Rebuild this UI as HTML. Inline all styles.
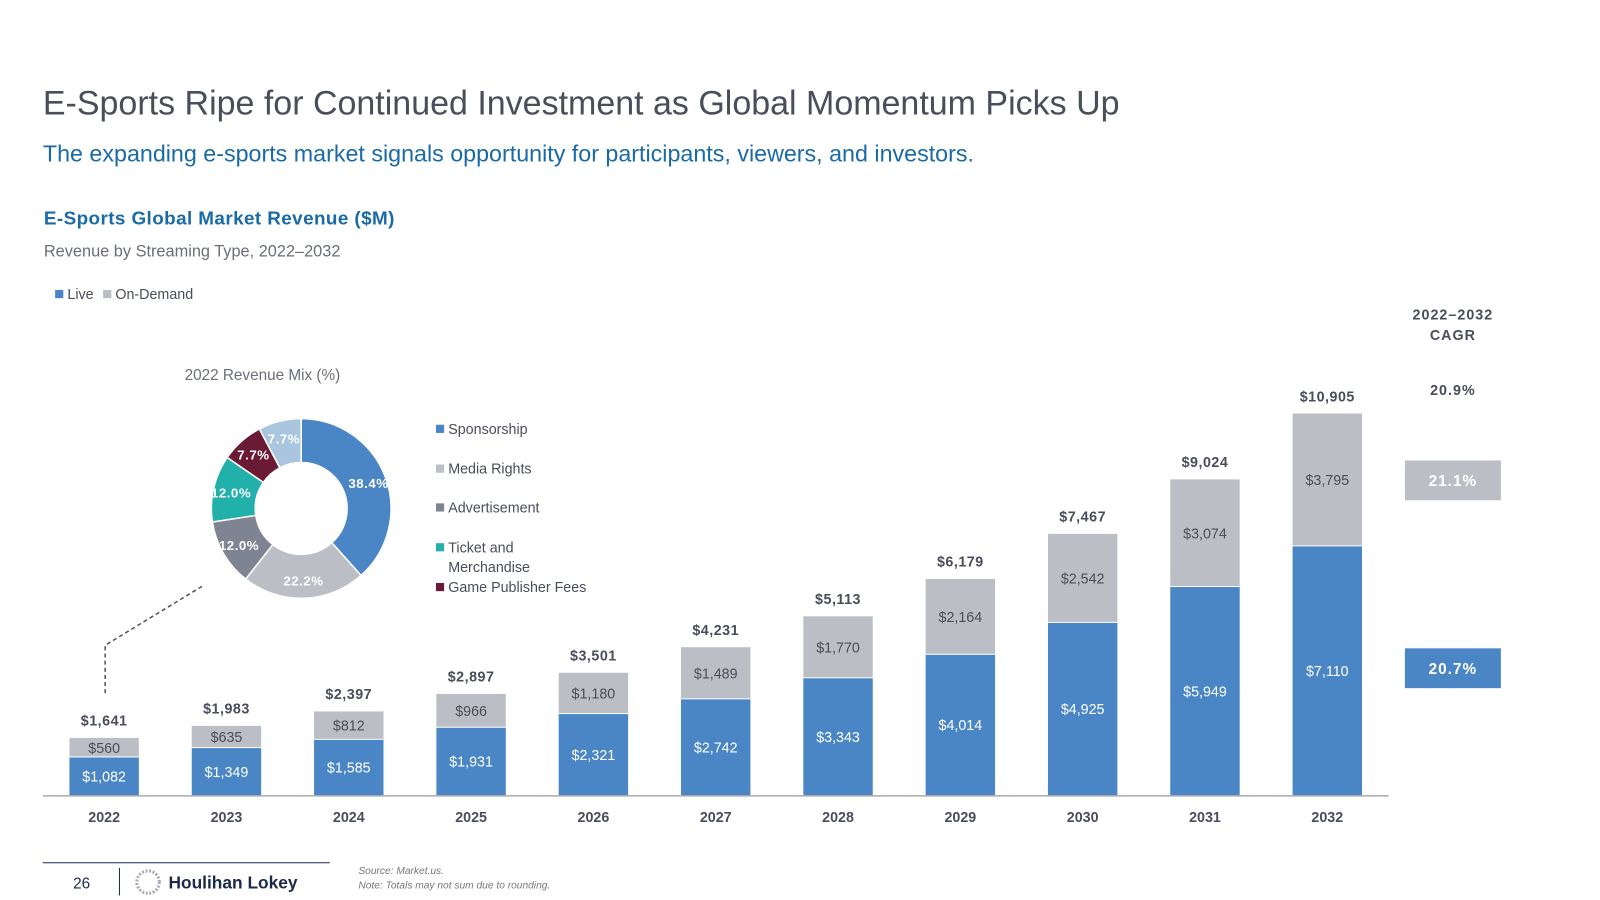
<!DOCTYPE html>
<html><head><meta charset="utf-8"><style>
html,body{margin:0;padding:0;background:#fff;}
svg{display:block;font-family:"Liberation Sans",sans-serif;}
</style></head><body>
<svg id="chart" width="1600" height="900" viewBox="0 0 1600 900">
<g transform="scale(1.021)">
<text x="42" y="112" font-size="33.3" fill="#4a4d5a">E-Sports Ripe for Continued Investment as Global Momentum Picks Up</text>
<text x="42" y="158" font-size="22.8" fill="#1a6aa8">The expanding e-sports market signals opportunity for participants, viewers, and investors.</text>
<text x="43" y="220" font-size="18.5" font-weight="bold" fill="#1a6aa8" letter-spacing="0.4">E-Sports Global Market Revenue ($M)</text>
<text x="43" y="251" font-size="16" fill="#6b6e78">Revenue by Streaming Type, 2022–2032</text>
<g>
<rect x="54" y="284" width="8" height="8" fill="#4a86c5"/>
<text x="66" y="293" font-size="14" fill="#4a4d5a">Live</text>
<rect x="101" y="284" width="8" height="8" fill="#bcbec5"/>
<text x="113" y="293" font-size="14" fill="#4a4d5a">On-Demand</text>
</g>
<text x="1423" y="313" font-size="14" font-weight="bold" fill="#4a4d5a" text-anchor="middle" letter-spacing="1">2022–2032</text>
<text x="1423" y="333" font-size="14" font-weight="bold" fill="#4a4d5a" text-anchor="middle" letter-spacing="1">CAGR</text>
<text x="1423" y="387" font-size="14" font-weight="bold" fill="#4a4d5a" text-anchor="middle" letter-spacing="1">20.9%</text>
<rect x="1376" y="451" width="94" height="39" fill="#bcbec5"/>
<text x="1423" y="476" font-size="15" font-weight="bold" fill="#fff" text-anchor="middle" letter-spacing="1">21.1%</text>
<rect x="1376" y="635" width="94" height="39" fill="#4a86c5"/>
<text x="1423" y="660" font-size="15" font-weight="bold" fill="#fff" text-anchor="middle" letter-spacing="1">20.7%</text>
<g id="bars"></g>
<line x1="42" y1="779.5" x2="1360" y2="779.5" stroke="#aaa" stroke-width="1.5"/>
<text x="257" y="372" font-size="15" fill="#6b6e78" text-anchor="middle">2022 Revenue Mix (%)</text>
<g id="donut"></g>
<g id="dlegend"></g>
<polyline points="103,679 103,632 200,573" fill="none" stroke="#555" stroke-width="1.5" stroke-dasharray="4,3"/>
<line x1="42" y1="845" x2="323" y2="845" stroke="#1b2a4a" stroke-width="1"/>
<text x="80" y="870" font-size="15" fill="#1b2a4a" text-anchor="middle">26</text>
<line x1="117" y1="850" x2="117" y2="877" stroke="#1b2a4a"/>
<circle cx="145" cy="864" r="11" fill="none" stroke="#aab" stroke-dasharray="2,1.5" stroke-width="3"/>
<text x="165" y="870" font-size="17" font-weight="bold" fill="#1b2a4a">Houlihan Lokey</text>
<text x="351" y="856" font-size="10" font-style="italic" fill="#777">Source: Market.us.</text>
<text x="351" y="870" font-size="10" font-style="italic" fill="#777">Note: Totals may not sum due to rounding.</text>
</g>
</svg>
<script>
const years=["2022","2023","2024","2025","2026","2027","2028","2029","2030","2031","2032"];
const live=[1082,1349,1585,1931,2321,2742,3343,4014,4925,5949,7110];
const onDemand=[560,635,812,966,1180,1489,1770,2164,2542,3074,3795];
const totals=[1641,1983,2397,2897,3501,4231,5113,6179,7467,9024,10905];
const mixLabels=["Sponsorship","Media Rights","Advertisement","Ticket and Merchandise","Game Publisher Fees","Other"];
const mixValues=[38.4,22.2,12.0,12.0,7.7,7.7];
const NS="http://www.w3.org/2000/svg";
function mk(t,a,p){const e=document.createElementNS(NS,t);for(const k in a)e.setAttribute(k,a[k]);p.appendChild(e);return e;}
const base=779,scaleK=374/10905;
const y=v=>base-v*scaleK;
const x=i=>102+i*119.8;
const bw=68;
const fmt=v=>"$"+v.toLocaleString("en-US");
const g=document.getElementById("bars");
years.forEach((yr,i)=>{
 const cx=x(i);
 const r1=mk("rect",{x:cx-bw/2,y:y(live[i]),width:bw,height:live[i]*scaleK,fill:"#4a86c5"},g);
 
 
 const top=live[i]+onDemand[i];
 const r2=mk("rect",{x:cx-bw/2,y:y(top),width:bw,height:onDemand[i]*scaleK-1,fill:"#bcbec5"},g);
 
 
 const t1=mk("text",{x:cx,y:(y(live[i])+base)/2+5,"font-size":14,fill:"#fff","text-anchor":"middle"},g);t1.textContent=fmt(live[i]);
 
 
 const t2=mk("text",{x:cx,y:(y(top)+y(live[i]))/2+5,"font-size":14,fill:"#4a4d5a","text-anchor":"middle"},g);t2.textContent=fmt(onDemand[i]);
 
 
 const t3=mk("text",{x:cx,y:y(totals[i])-12,"font-size":14,"font-weight":"bold",fill:"#4a4d5a","text-anchor":"middle","letter-spacing":"0.5"},g);t3.textContent=fmt(totals[i]);
 
 
 const t4=mk("text",{x:cx,y:805,"font-size":14,"font-weight":"bold",fill:"#4a4d5a","text-anchor":"middle"},g);t4.textContent=yr;
 
 
});
const colors=["#4a86c5","#bcbec5","#7f8493","#21b0aa","#6b1a35","#a9c6de"];
const dg=document.getElementById("donut");
const CX=295,CY=498,RO=88,RI=45;
let acc=0;const sum=mixValues.reduce((a,b)=>a+b,0);
mixValues.forEach((v,i)=>{
 const a0=acc/sum*2*Math.PI,a1=(acc+v)/sum*2*Math.PI;acc+=v;
 const p=(a,r)=>[CX+r*Math.sin(a),CY-r*Math.cos(a)];
 const [x0,y0]=p(a0,RO),[x1,y1]=p(a1,RO),[x2,y2]=p(a1,RI),[x3,y3]=p(a0,RI);
 const lg=(a1-a0)>Math.PI?1:0;
 const s=mk("path",{d:`M${x0},${y0}A${RO},${RO} 0 ${lg} 1 ${x1},${y1}L${x2},${y2}A${RI},${RI} 0 ${lg} 0 ${x3},${y3}Z`,fill:colors[i],stroke:"#fff","stroke-width":1.5},dg);
 
 
 const am=(a0+a1)/2;const [lx,ly]=p(am,(RO+RI)/2+4);
 const t=mk("text",{x:lx,y:ly+5,"font-size":13,"font-weight":"bold",fill:"#fff","text-anchor":"middle","letter-spacing":"0.5"},dg);
 t.textContent=v.toFixed(1)+"%";
 
 
});
const lgd=document.getElementById("dlegend");
const ly=[420,459,497,536,575];
for(let i=0;i<5;i++){
 const r=mk("rect",{x:427,y:ly[i]-4,width:8,height:8,fill:colors[i]},lgd);
 
 
 const t=mk("text",{x:439,y:ly[i]+5,"font-size":14,fill:"#4a4d5a"},lgd);
 
 
 if(i===3){t.textContent="Ticket and";const t2=mk("text",{x:439,y:ly[i]+24,"font-size":14,fill:"#4a4d5a"},lgd);t2.textContent="Merchandise";
 
 }
 else t.textContent=mixLabels[i];
}
</script>
</body></html>
